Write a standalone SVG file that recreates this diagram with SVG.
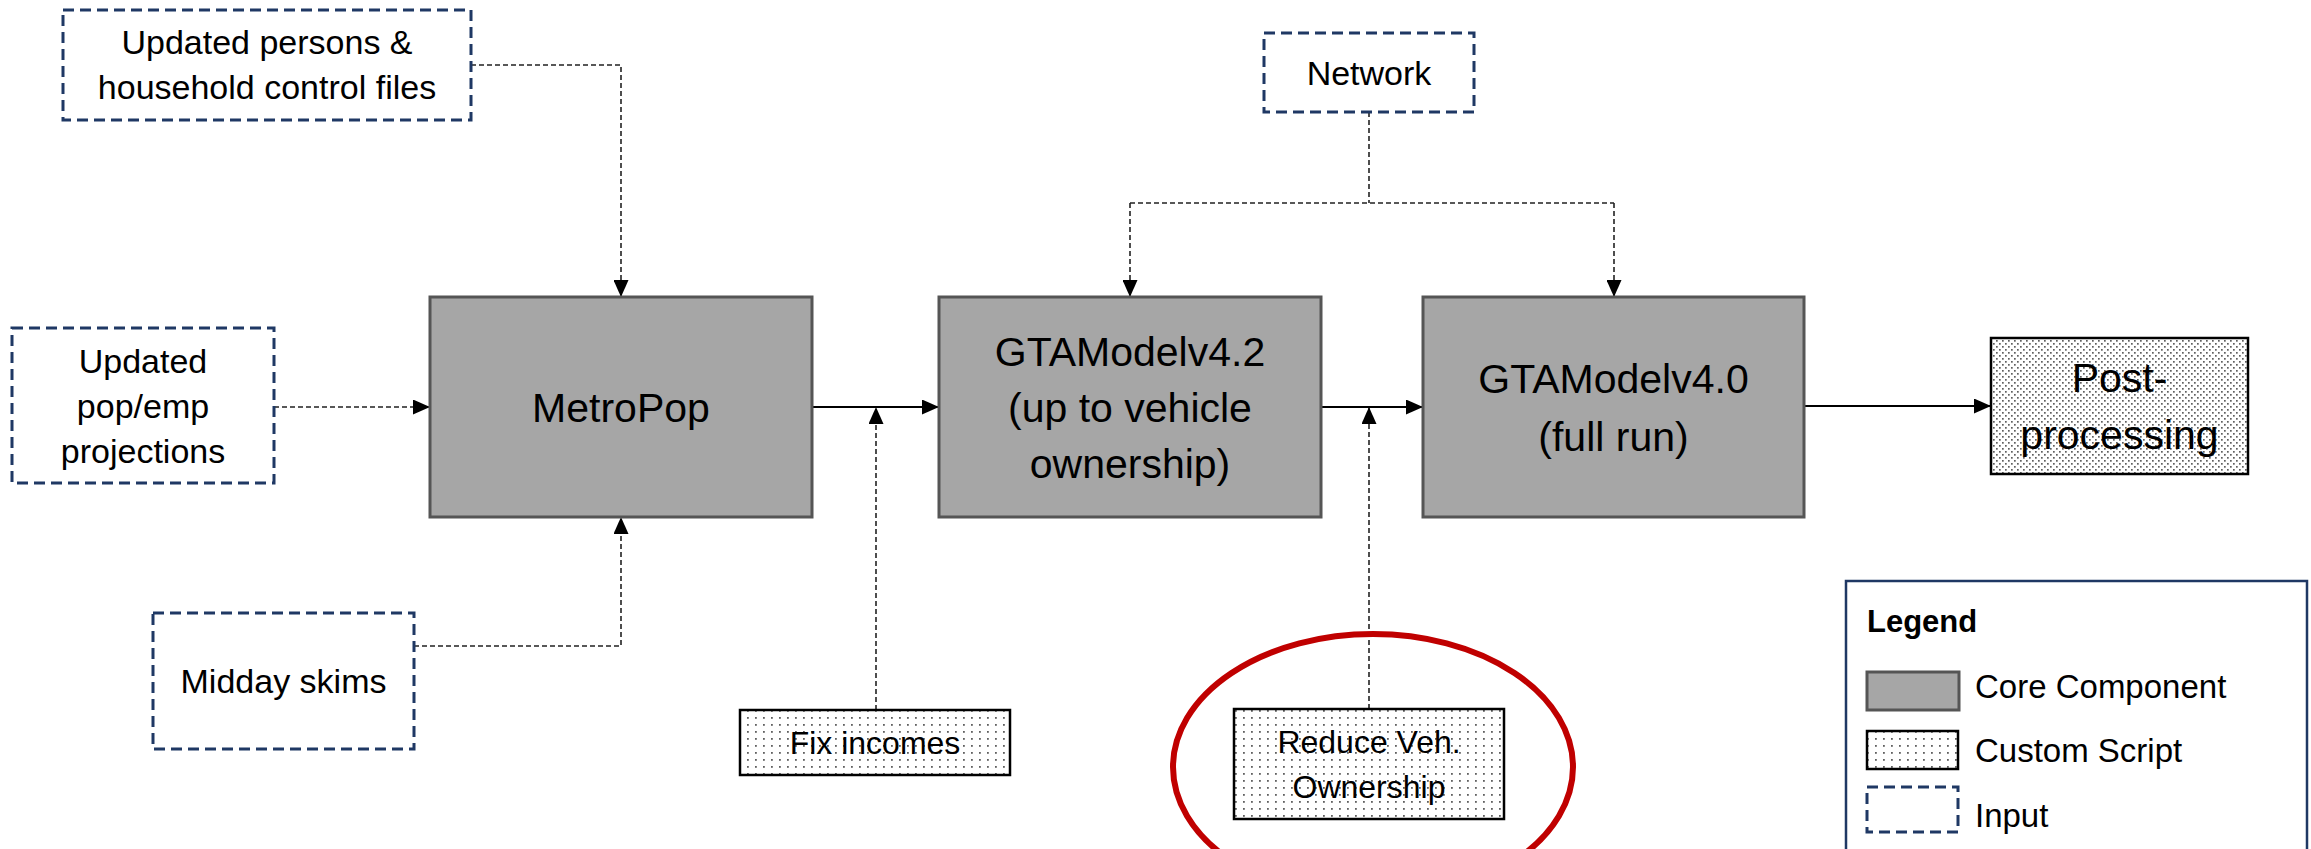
<svg xmlns="http://www.w3.org/2000/svg" width="2311" height="849" viewBox="0 0 2311 849">
<style>
text{font-family:"Liberation Sans",Arial,sans-serif;fill:#000;text-anchor:middle}
.core{fill:#A6A6A6;stroke:#555;stroke-width:3}
.input{fill:#fff;stroke:#1F3864;stroke-width:3;stroke-dasharray:11 6}
.scriptA{fill:url(#dotsA);stroke:#000;stroke-width:2.5}
.scriptB{fill:url(#dotsB);stroke:#000;stroke-width:2.5}
.tcore{font-size:41px}
.tin{font-size:34px}
.tsc{font-size:32px}
.tleg{font-size:33px;text-anchor:start}
.solid{fill:none;stroke:#000;stroke-width:1.8}
.dash{fill:none;stroke:#222;stroke-width:1.6;stroke-dasharray:5 3}
</style>
<defs>
<pattern id="dotsA" width="8" height="7" patternUnits="userSpaceOnUse">
<rect width="8" height="7" fill="#fff"/>
<rect x="3" y="3" width="1.8" height="1.8" fill="#606060"/>
</pattern>
<pattern id="dotsB" width="6" height="6" patternUnits="userSpaceOnUse">
<rect width="6" height="6" fill="#fff"/>
<rect x="1" y="1" width="1.7" height="1.7" fill="#606060"/>
<rect x="4" y="4" width="1.7" height="1.7" fill="#606060"/>
</pattern>
<marker id="ah" markerUnits="userSpaceOnUse" markerWidth="17" markerHeight="15" refX="17" refY="7.5" orient="auto">
<path d="M0,0 L17,7.5 L0,15 z" fill="#000"/>
</marker>
</defs>

<g id="connectors">
<path class="dash" d="M471,65 H621 V297" marker-end="url(#ah)"/>
<path class="dash" d="M274,407 H430" marker-end="url(#ah)"/>
<path class="dash" d="M414,646 H621 V517" marker-end="url(#ah)"/>
<path class="solid" d="M812,407 H939" marker-end="url(#ah)"/>
<path class="dash" d="M876,710 V407" marker-end="url(#ah)"/>
<path class="dash" d="M1369,112 V203"/>
<path class="dash" d="M1130,203 H1614"/>
<path class="dash" d="M1130,203 V297" marker-end="url(#ah)"/>
<path class="dash" d="M1614,203 V297" marker-end="url(#ah)"/>
<path class="solid" d="M1321,407 H1423" marker-end="url(#ah)"/>
<path class="dash" d="M1369,709 V407" marker-end="url(#ah)"/>
<path class="solid" d="M1804,406 H1991" marker-end="url(#ah)"/>
</g>

<g id="n-persons">
<rect class="input" x="63" y="10" width="408" height="110"/>
<text class="tin" x="267" y="54">Updated persons &amp;</text>
<text class="tin" x="267" y="99">household control files</text>
</g>
<g id="n-popemp">
<rect class="input" x="12" y="328" width="262" height="155"/>
<text class="tin" x="143" y="373">Updated</text>
<text class="tin" x="143" y="418">pop/emp</text>
<text class="tin" x="143" y="463">projections</text>
</g>
<g id="n-midday">
<rect class="input" x="153" y="613" width="261" height="136"/>
<text class="tin" x="283.5" y="693">Midday skims</text>
</g>
<g id="n-network">
<rect class="input" x="1264" y="33" width="210" height="79"/>
<text class="tin" x="1369" y="85">Network</text>
</g>

<g id="n-metropop">
<rect class="core" x="430" y="297" width="382" height="220"/>
<text class="tcore" x="621" y="422">MetroPop</text>
</g>
<g id="n-gta42">
<rect class="core" x="939" y="297" width="382" height="220"/>
<text class="tcore" x="1130" y="366">GTAModelv4.2</text>
<text class="tcore" x="1130" y="422">(up to vehicle</text>
<text class="tcore" x="1130" y="478">ownership)</text>
</g>
<g id="n-gta40">
<rect class="core" x="1423" y="297" width="381" height="220"/>
<text class="tcore" x="1613.5" y="393">GTAModelv4.0</text>
<text class="tcore" x="1613.5" y="451">(full run)</text>
</g>
<g id="n-post">
<rect class="scriptB" x="1991" y="338" width="257" height="136"/>
<text class="tcore" x="2119.5" y="392">Post-</text>
<text class="tcore" x="2119.5" y="449">processing</text>
</g>

<g id="n-fix">
<rect class="scriptA" x="740" y="710" width="270" height="65"/>
<text class="tsc" x="875" y="754">Fix incomes</text>
</g>
<g id="n-reduce">
<rect class="scriptA" x="1234" y="709" width="270" height="110"/>
<text class="tsc" x="1369" y="753">Reduce Veh.</text>
<text class="tsc" x="1369" y="798">Ownership</text>
</g>

<ellipse id="highlight" cx="1373" cy="767" rx="200" ry="133" fill="none" stroke="#C00000" stroke-width="6"/>

<g id="legend">
<rect x="1846" y="581" width="461" height="300" fill="#fff" stroke="#1F3864" stroke-width="2.5"/>
<text x="1867" y="632" style="font-size:31px;font-weight:bold;text-anchor:start">Legend</text>
<rect class="core" x="1867" y="672" width="92" height="38"/>
<text class="tleg" x="1975" y="698">Core Component</text>
<rect class="scriptA" x="1867" y="731" width="91" height="38"/>
<text class="tleg" x="1975" y="762">Custom Script</text>
<rect class="input" x="1867" y="787" width="91" height="45"/>
<text class="tleg" x="1975" y="827">Input</text>
</g>
</svg>
